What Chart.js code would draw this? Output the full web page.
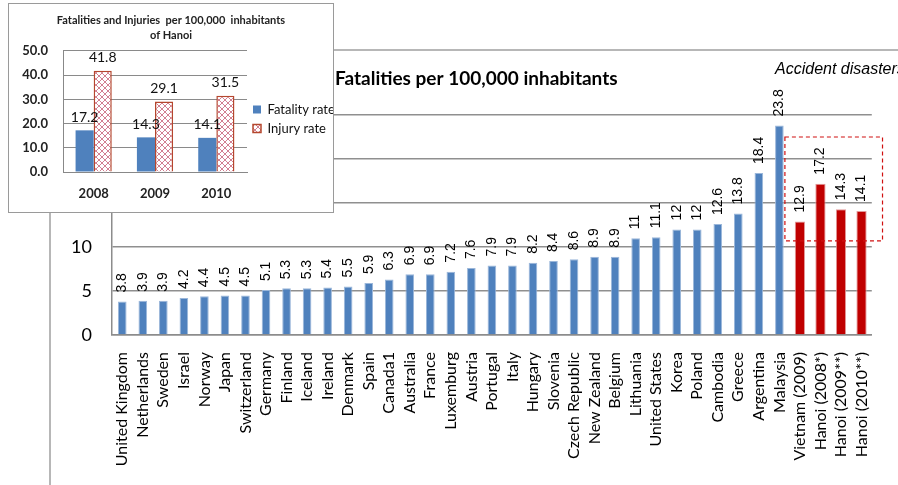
<!DOCTYPE html>
<html>
<head>
<meta charset="utf-8">
<script src="https://cdn.jsdelivr.net/npm/chart.js@4.4.1/dist/chart.umd.min.js"></script>
<style>
  html, body { margin: 0; padding: 0; background: #fff; }
  #wrap { position: relative; width: 898px; height: 485px; overflow: hidden; }
  #mainChart { position: absolute; left: 0; top: 0; }
  #inset { position: absolute; left: 8px; top: 3px; width: 324px; height: 208px; border: 1px solid #9a9a9a; background: #fff; }
</style>
</head>
<body>
<div id="wrap">
  <canvas id="mainChart" width="898" height="485"></canvas>
  <div id="inset"><canvas id="insetChart" width="324" height="208"></canvas></div>
</div>
<script>
// main chart data
const countries = ['United Kingdom', 'Netherlands', 'Sweden', 'Israel', 'Norway', 'Japan', 'Switzerland',
    'Germany', 'Finland', 'Iceland', 'Ireland', 'Denmark', 'Spain', 'Canada1', 'Australia', 'France',
    'Luxemburg', 'Austria', 'Portugal', 'Italy', 'Hungary', 'Slovenia', 'Czech Republic', 'New Zealand',
    'Belgium', 'Lithuania', 'United States', 'Korea', 'Poland', 'Cambodia', 'Greece', 'Argentina', 'Malaysia'];
const countryRates = [3.8, 3.9, 3.9, 4.2, 4.4, 4.5, 4.5, 5.1, 5.3, 5.3, 5.4, 5.5, 5.9, 6.3, 6.9, 6.9,
    7.2, 7.6, 7.9, 7.9, 8.2, 8.4, 8.6, 8.9, 8.9, 11, 11.1, 12, 12, 12.6, 13.8, 18.4, 23.8];
const hanoiLabels = ['Vietnam (2009)', 'Hanoi (2008*)', 'Hanoi (2009**)', 'Hanoi (2010**)'];
const hanoiRates = [12.9, 17.2, 14.3, 14.1];

// inset chart data
const insetYears = ['2008', '2009', '2010'];
const fatalityRate = [17.2, 14.3, 14.1];
const injuryRate = [41.8, 29.1, 31.5];

const SANS = 'Lato, "Open Sans", sans-serif';
const ARIAL = '"Liberation Sans", Arial, sans-serif';

const allLabels = countries.concat(hanoiLabels);
const blueData = countryRates.concat(hanoiLabels.map(() => null));
const redData = countries.map(() => null).concat(hanoiRates);

// rotated value labels above each bar
const valueLabels = {
    id: 'valueLabels',
    afterDatasetsDraw(chart) {
        const ctx = chart.ctx;
        ctx.save();
        ctx.font = '14px ' + ARIAL;
        ctx.fillStyle = '#000';
        ctx.textAlign = 'left';
        ctx.textBaseline = 'middle';
        chart.data.datasets.forEach((ds, i) => {
            chart.getDatasetMeta(i).data.forEach((bar, j) => {
                const v = ds.data[j];
                if (v == null) return;
                ctx.save();
                ctx.translate(bar.x, bar.y - 9);
                ctx.rotate(-Math.PI / 2);
                ctx.fillText(String(v), 0, 0);
                ctx.restore();
            });
        });
        ctx.restore();
    }
};

// frame, title, note and the dashed box round the Hanoi bars
const decorations = {
    id: 'decorations',
    beforeDraw(chart) {
        const ctx = chart.ctx;
        ctx.save();
        ctx.strokeStyle = '#a0a0a0';
        ctx.lineWidth = 1.5;
        ctx.beginPath();
        ctx.moveTo(50, 485);
        ctx.lineTo(50, 50);
        ctx.lineTo(898, 50);
        ctx.stroke();

        ctx.fillStyle = '#000';
        ctx.textBaseline = 'middle';
        ctx.font = 'bold 19px ' + SANS;
        ctx.fillText('Fatalities per 100,000 inhabitants', 335, 79);
        ctx.font = 'italic 16px ' + ARIAL;
        ctx.fillText('Accident disasters', 775, 70);
        ctx.restore();
    },
    afterDraw(chart) {
        const x = chart.scales.x, y = chart.scales.y;
        const left = x.getPixelForValue(33) - 15;
        const right = x.getPixelForValue(36) + 21;
        const top = y.getPixelForValue(22.5);
        const bottom = y.getPixelForValue(10.7);
        const ctx = chart.ctx;
        ctx.save();
        ctx.strokeStyle = '#d01010';
        ctx.lineWidth = 1.2;
        ctx.setLineDash([4, 3]);
        ctx.strokeRect(left, top, right - left, bottom - top);
        ctx.restore();
    }
};

new Chart(document.getElementById('mainChart'), {
    type: 'bar',
    data: {
        labels: allLabels,
        datasets: [{
            label: 'Countries',
            data: blueData,
            backgroundColor: '#4F81BD',
            borderColor: '#9bb7da',
            borderWidth: 1,
            barPercentage: 0.42,
            categoryPercentage: 1,
            grouped: false
        }, {
            label: 'Vietnam / Hanoi',
            data: redData,
            backgroundColor: '#C00000',
            borderColor: '#e29a9a',
            borderWidth: 1,
            barPercentage: 0.5,
            categoryPercentage: 1,
            grouped: false
        }]
    },
    options: {
        responsive: false,
        animation: false,
        layout: { padding: { top: 115, right: 21, left: 0, bottom: 0 } },
        plugins: {
            legend: { display: false },
            tooltip: { enabled: false }
        },
        scales: {
            x: {
                grid: { display: false, drawTicks: false },
                border: { color: '#8c8c8c', width: 1.5 },
                ticks: {
                    autoSkip: false,
                    minRotation: 90,
                    maxRotation: 90,
                    padding: 17,
                    color: '#000',
                    font: { family: SANS, size: 16 }
                },
                afterFit(scale) { scale.height = 150; }
            },
            y: {
                min: 0,
                max: 25,
                ticks: { stepSize: 5, padding: 20, color: '#000', font: { family: SANS, size: 18 } },
                grid: { color: '#8f8f8f', lineWidth: 1.5, drawTicks: false },
                border: { color: '#8c8c8c', width: 1.5 },
                afterFit(scale) { scale.width = 112; }
            }
        }
    },
    plugins: [valueLabels, decorations]
});

// inset: fatalities and injuries of Hanoi
function makeHatch() {
    const c = document.createElement('canvas');
    c.width = 6;
    c.height = 6;
    const g = c.getContext('2d');
    g.fillStyle = '#fff';
    g.fillRect(0, 0, 6, 6);
    g.strokeStyle = '#d27f92';
    g.lineWidth = 1;
    g.beginPath();
    g.moveTo(0, 0); g.lineTo(6, 6);
    g.moveTo(6, 0); g.lineTo(0, 6);
    g.stroke();
    return g.createPattern(c, 'repeat');
}

const insetLabels = {
    id: 'insetLabels',
    afterDatasetsDraw(chart) {
        const ctx = chart.ctx;
        ctx.save();
        ctx.font = '14px ' + SANS;
        ctx.fillStyle = '#111';
        ctx.textAlign = 'center';
        ctx.textBaseline = 'bottom';
        chart.data.datasets.forEach((ds, i) => {
            chart.getDatasetMeta(i).data.forEach((bar, j) => {
                ctx.fillText(ds.data[j].toFixed(1), bar.x, bar.y - 6);
            });
        });
        ctx.restore();
    }
};

new Chart(document.getElementById('insetChart'), {
    type: 'bar',
    data: {
        labels: insetYears,
        datasets: [{
            label: 'Fatality rate',
            data: fatalityRate,
            backgroundColor: '#4F81BD',
            borderWidth: 0
        }, {
            label: 'Injury rate',
            data: injuryRate,
            backgroundColor: makeHatch(),
            borderColor: '#b5472e',
            borderWidth: 1.5
        }]
    },
    options: {
        responsive: false,
        animation: false,
        datasets: { bar: { categoryPercentage: 0.59, barPercentage: 1 } },
        plugins: {
            title: {
                display: true,
                text: ['Fatalities and Injuries  per 100,000  inhabitants', 'of Hanoi'],
                color: '#222',
                font: { family: SANS, size: 11, weight: 'bold', lineHeight: 1.45 },
                padding: { top: 8, bottom: 7 }
            },
            legend: {
                position: 'right',
                maxWidth: 86,
                // empty title only pushes the two entries down a little
                title: { display: true, text: ' ', font: { size: 10 }, padding: 5 },
                labels: { boxWidth: 8, boxHeight: 8, padding: 6, color: '#111', font: { family: SANS, size: 13 } }
            },
            tooltip: { enabled: false }
        },
        scales: {
            x: {
                grid: { display: false, drawTicks: false },
                border: { color: '#888' },
                ticks: { padding: 14, color: '#222', font: { family: SANS, size: 13, weight: 'bold' } },
                afterFit(scale) { scale.height = 40; }
            },
            y: {
                min: 0,
                max: 50,
                ticks: {
                    stepSize: 10,
                    padding: 15,
                    color: '#222',
                    font: { family: SANS, size: 13, weight: 'bold' },
                    callback: v => v.toFixed(1)
                },
                grid: { color: '#8a8a8a', drawTicks: false },
                border: { color: '#888' },
                afterFit(scale) { scale.width = 54; }
            }
        }
    },
    plugins: [insetLabels]
});
</script>
</body>
</html>
